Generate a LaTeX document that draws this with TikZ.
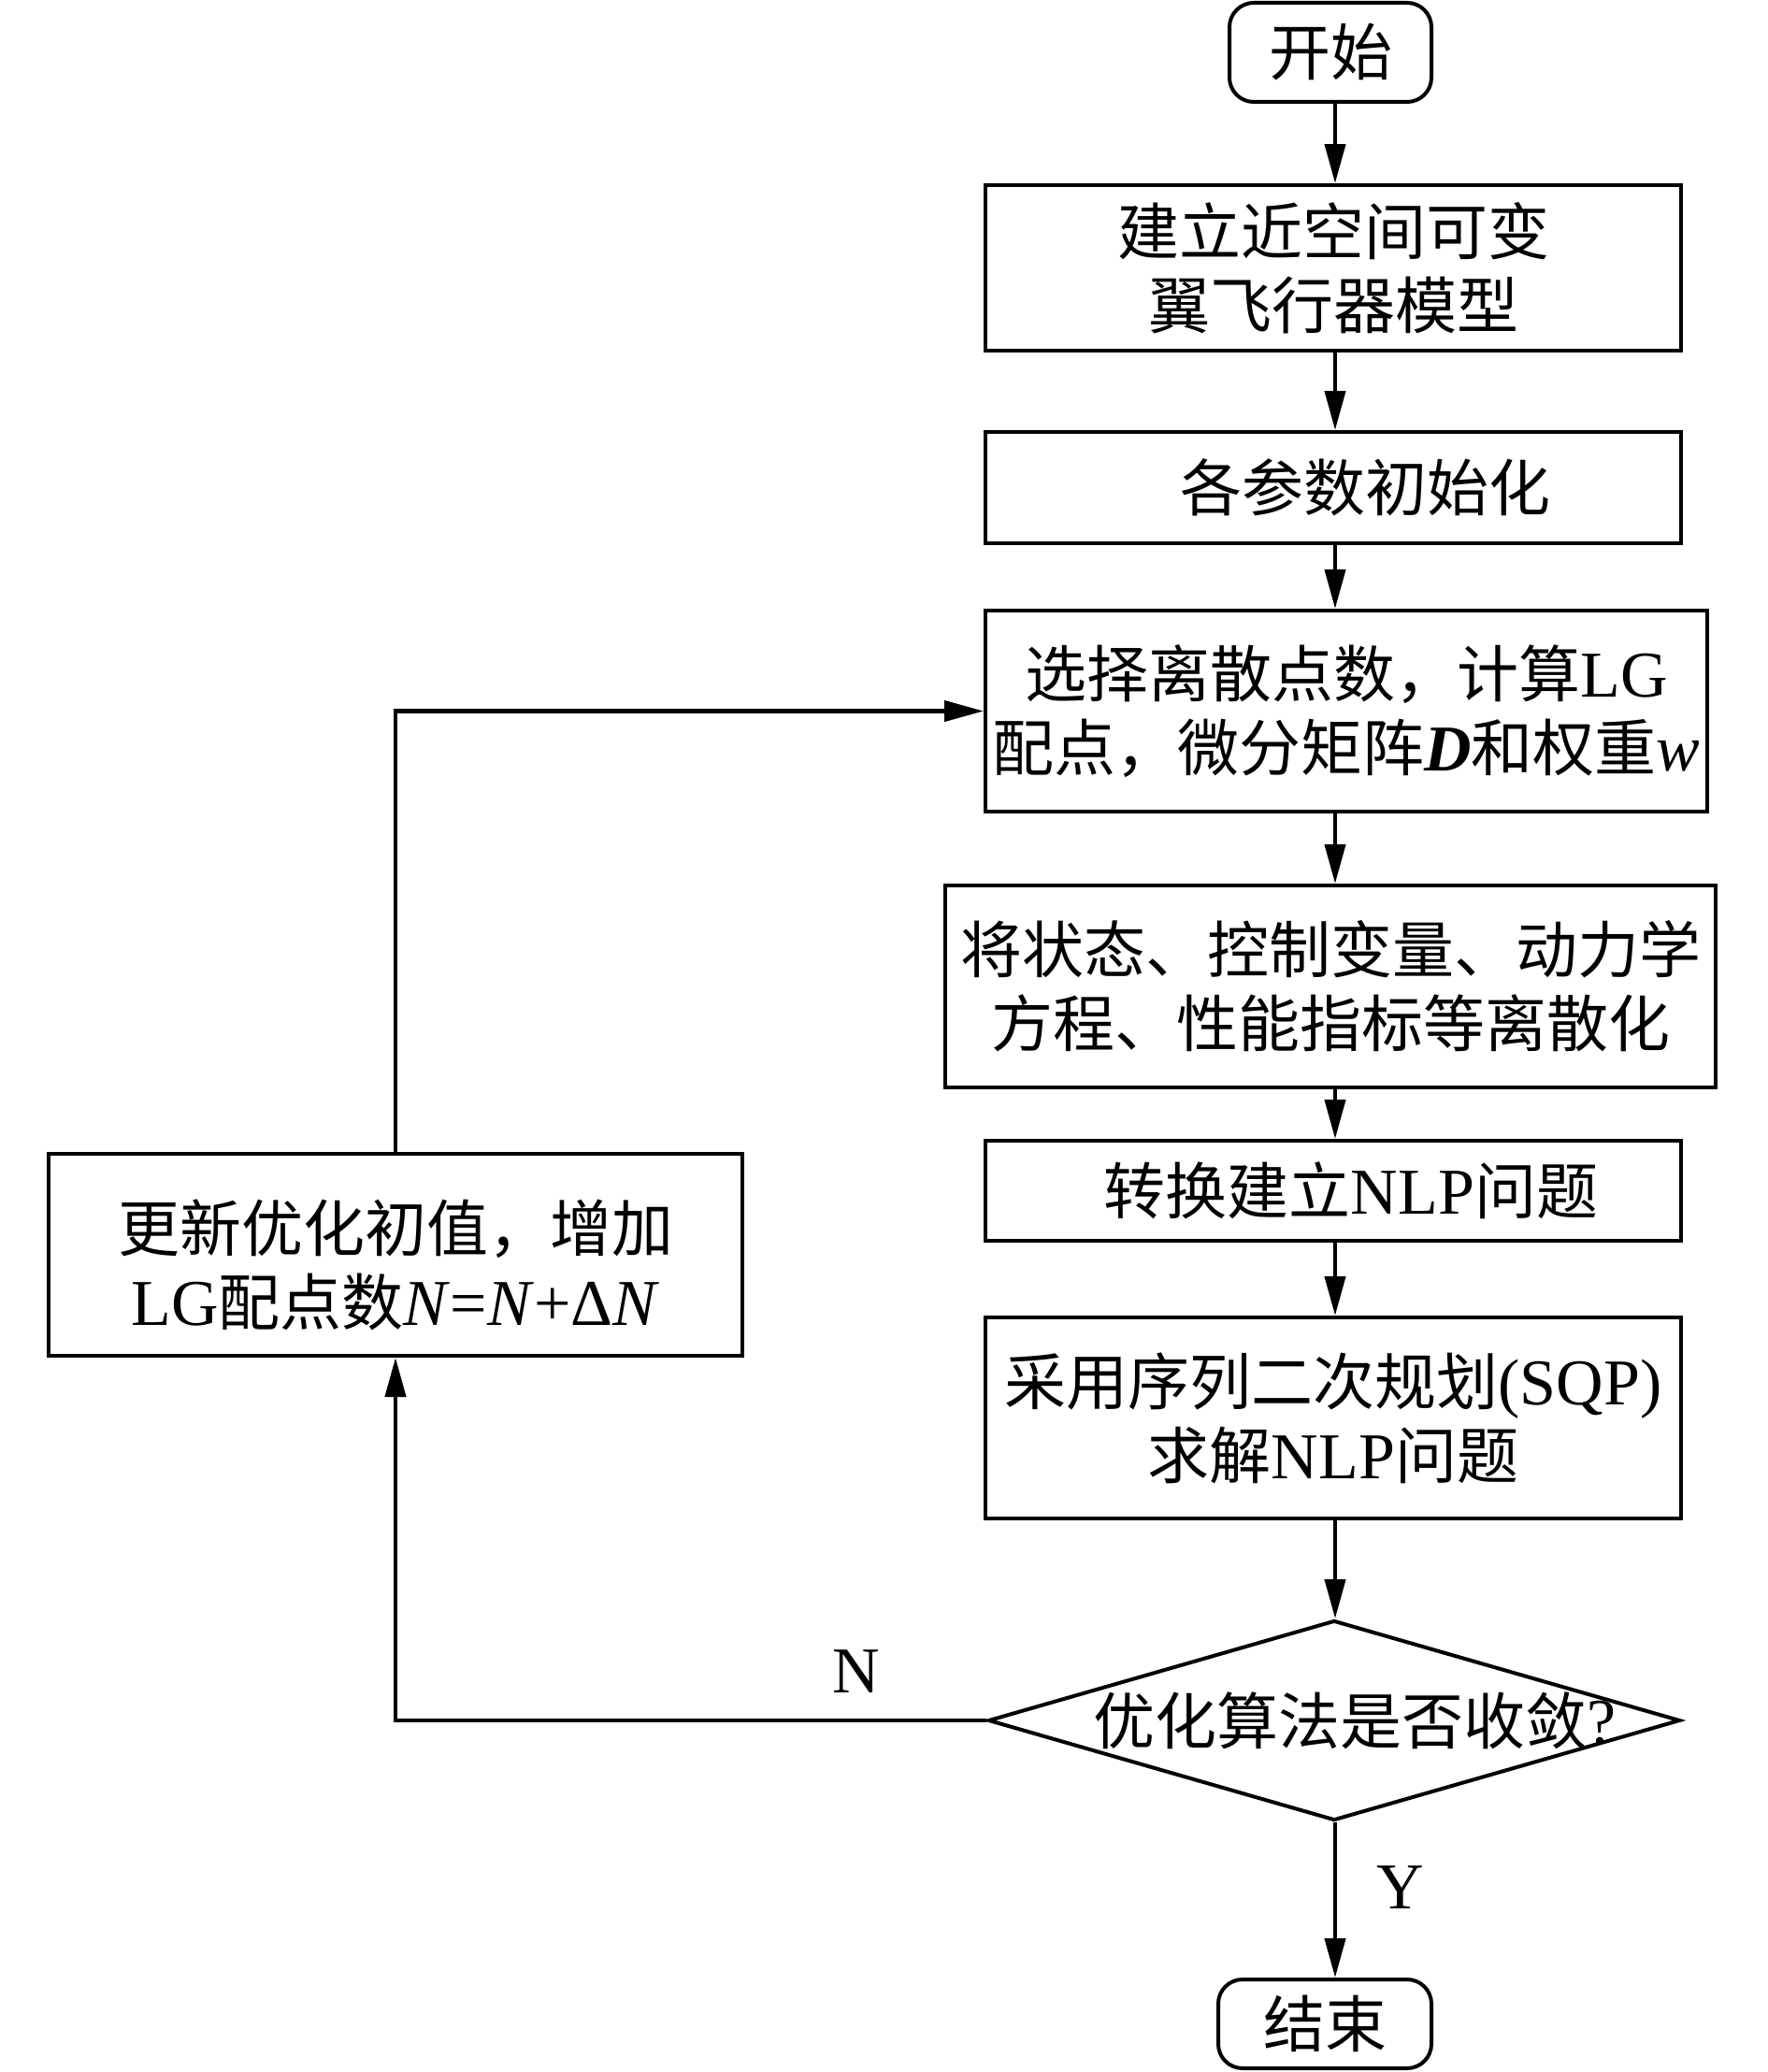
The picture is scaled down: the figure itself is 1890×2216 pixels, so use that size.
\documentclass[tikz,border=0pt]{standalone}
\usepackage{fontspec}
\setmainfont{Liberation Serif}[Scale=1.06]
\newfontfamily\cjk{Noto Sans CJK SC}
\newcommand\zh[1]{{\cjk #1}}
\usetikzlibrary{shapes.geometric,arrows.meta}
\begin{document}
\begin{tikzpicture}[x=0.5pt,y=-0.5pt,
  every node/.style={font=\fontsize{33pt}{39.5pt}\selectfont, align=center},
  box/.style={draw, line width=2pt, minimum width=372pt, inner sep=0pt},
  term/.style={draw, line width=2pt, rounded corners=13pt, inner sep=0pt},
  arr/.style={line width=2.1pt, -{Triangle[length=21pt,width=11pt]}},
  ln/.style={line width=2.1pt}]
\useasboundingbox (0,0) rectangle (1890,2216);
\node[term, minimum width=108pt, minimum height=53pt] (start) at (1423,56) {\zh{开始}};
\node[box, minimum height=88.5pt] (b1) at (1426,286.5) {\zh{建立近空间可变}\\\zh{翼飞行器模型}};
\node[box, minimum height=59.5pt] (b2) at (1426,521.5) {};
\node (t2) at (1460,521.5) {\zh{各参数初始化}};
\node[box, minimum width=386pt, minimum height=107.5pt] (b3) at (1440,760.5) {\zh{选择离散点数，计算}LG\\\zh{配点，微分矩阵}\textbf{\textit{D}}\zh{和权重}\textit{w}};
\node[box, minimum width=412pt, minimum height=108pt] (b4) at (1423,1055) {\zh{将状态、控制变量、动力学}\\\zh{方程、性能指标等离散化}};
\node[box, minimum height=53.5pt] (b5) at (1426,1273.5) {};
\node (t5) at (1445,1273.5) {\zh{转换建立}NLP\zh{问题}};
\node[box, minimum height=107.5pt] (b6) at (1426,1516.5) {\zh{采用序列二次规划}(SQP)\\\zh{求解}NLP\zh{问题}};
\node[diamond, draw, line width=2pt, minimum width=370pt, minimum height=107pt, inner sep=0pt] (d) at (1427,1840) {};
\node (td) at (1449,1840) {\zh{优化算法是否收敛}?};
\node[term, minimum width=114pt, minimum height=47.5pt] (end) at (1417,2164.5) {\zh{结束}};
\node[box, minimum width=371pt, minimum height=108pt] (lb) at (423,1342) {};
\node (tl) at (423,1353) {\zh{更新优化初值，增加}\\LG\zh{配点数}\textit{N}=\textit{N}+Δ\textit{N}};
\node (nl) at (916,1788) {N};
\node (yl) at (1498,2019) {Y};
\coordinate (col) at (1428,0);
\draw[arr] (col |- start.south) -- (col |- b1.north);
\draw[arr] (col |- b1.south) -- (col |- b2.north);
\draw[arr] (col |- b2.south) -- (col |- b3.north);
\draw[arr] (col |- b3.south) -- (col |- b4.north);
\draw[arr] (col |- b4.south) -- (col |- b5.north);
\draw[arr] (col |- b5.south) -- (col |- b6.north);
\draw[arr] (col |- b6.south) -- (col |- d.north);
\draw[arr] (col |- d.south) -- (col |- end.north);
\draw[arr] (d.west) -| (lb.south);
\draw[arr] (lb.north) |- (b3.west);
\end{tikzpicture}
\end{document}
